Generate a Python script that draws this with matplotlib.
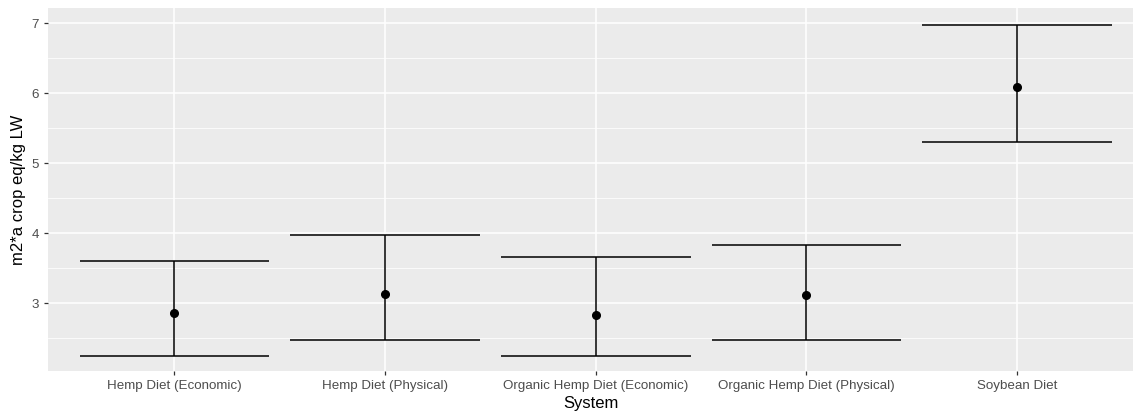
import numpy as np
import matplotlib
matplotlib.use("Agg")
import matplotlib.pyplot as plt
from matplotlib.ticker import MultipleLocator

plt.rcParams['font.family'] = ['Liberation Sans', 'DejaVu Sans']

systems = ["Hemp Diet (Economic)", "Hemp Diet (Physical)", "Organic Hemp Diet (Economic)",
           "Organic Hemp Diet (Physical)", "Soybean Diet"]
mean_val = [2.86, 3.13, 2.83, 3.11, 6.09]
lower = [2.25, 2.47, 2.25, 2.47, 5.31]
upper = [3.60, 3.97, 3.66, 3.83, 6.98]

fig = plt.figure(figsize=(11.33, 4.15), dpi=100)
ax = fig.add_axes([48 / 1133, 44 / 415, 1 - 48 / 1133, 363 / 415])
ax.set_facecolor("#EBEBEB")

x = np.arange(1, len(systems) + 1)
ax.vlines(x, lower, upper, color="black", lw=1.1, zorder=3)
ax.hlines(lower, x - 0.45, x + 0.45, color="black", lw=1.1, zorder=3)
ax.hlines(upper, x - 0.45, x + 0.45, color="black", lw=1.1, zorder=3)
ax.plot(x, mean_val, "o", color="black", ms=5.5, zorder=4)

ax.set_xlim(0.4, 5.55)
ax.set_ylim(2.03, 7.22)
ax.set_xticks(x)
ax.set_xticklabels(systems)
ax.yaxis.set_major_locator(MultipleLocator(1))
ax.yaxis.set_minor_locator(MultipleLocator(0.5))

ax.grid(which="major", color="white", lw=1.1)
ax.grid(which="minor", axis="y", color="white", lw=0.55)
ax.set_axisbelow(True)
for s in ax.spines.values():
    s.set_visible(False)

ax.tick_params(which="major", length=3, width=0.9, color="#333333",
               labelsize=9.6, labelcolor="#4D4D4D", pad=3.5)
ax.tick_params(which="minor", length=0)

ax.set_xlabel("System", fontsize=12, labelpad=2.5)
ax.set_ylabel("m2*a crop eq/kg LW", fontsize=12, labelpad=4)

fig.savefig("out.png", dpi=100)
